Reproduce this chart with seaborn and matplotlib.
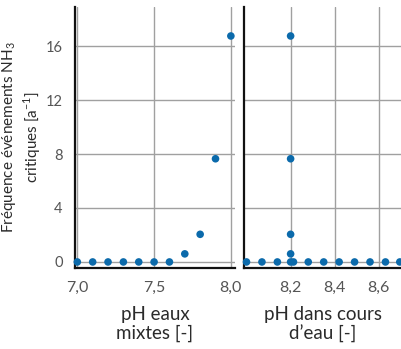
import matplotlib
matplotlib.use("Agg")
import matplotlib.pyplot as plt
import seaborn as sns
import pandas as pd

ph_mix = [7.0, 7.1, 7.2, 7.3, 7.4, 7.5, 7.6, 7.7, 7.8, 7.9, 8.0]
freq_mix = [0, 0, 0, 0, 0, 0, 0, 0.6, 2.05, 7.65, 16.75]

ph_riv = [8.0, 8.07, 8.14, 8.2, 8.2, 8.2, 8.2, 8.2, 8.213, 8.28, 8.35, 8.42, 8.49, 8.56, 8.63, 8.695]
freq_riv = [0, 0, 0, 0, 0.6, 2.05, 7.65, 16.75, 0, 0, 0, 0, 0, 0, 0, 0]

sns.set_theme(style="white")
plt.rcParams['font.family'] = ['Lato', 'DejaVu Sans']
plt.rcParams['mathtext.fontset'] = 'custom'
plt.rcParams['mathtext.rm'] = 'Lato'

blue = "#0b6aab"
grid_c = "#a0a0a0"
txt = "#2b2b2b"

fig = plt.figure(figsize=(4.02, 3.49), dpi=100)
ax1 = fig.add_axes([0.1866, 0.232, 0.398, 0.748])
ax2 = fig.add_axes([0.6077, 0.232, 0.3923, 0.748])

df1 = pd.DataFrame({"x": ph_mix, "y": freq_mix})
df2 = pd.DataFrame({"x": ph_riv, "y": freq_riv})

for ax, df in ((ax1, df1), (ax2, df2)):
    ax.grid(True, color=grid_c, linewidth=1.0)
    ax.set_axisbelow(True)
    sns.scatterplot(data=df, x="x", y="y", ax=ax, color=blue, s=30,
                    edgecolor="none", zorder=3, clip_on=False)
    ax.set_ylim(-0.45, 18.9)
    ax.set_yticks([0, 4, 8, 12, 16])
    for s in ("top", "right"):
        ax.spines[s].set_visible(False)
    for s in ("left", "bottom"):
        ax.spines[s].set_color("#111111")
        ax.spines[s].set_linewidth(1.6)
    ax.tick_params(length=0, labelsize=11.5, labelcolor="#555555", pad=9)
    ax.set_xlabel("")
    ax.set_ylabel("")

ax1.tick_params(axis="y", pad=9, labelsize=10.5)
ax1.set_xlim(6.985, 8.027)
ax1.set_xticks([7.0, 7.5, 8.0])
ax1.set_xticklabels(["7,0", "7,5", "8,0"])
ax1.set_yticklabels(["0", "4", "8", "12", "16"])
ax1.set_xlabel("pH eaux\nmixtes [-]", fontsize=13.5, color=txt, labelpad=8, linespacing=1.15)
ax1.set_ylabel("Fréquence événements NH$_\\mathregular{3}$\ncritiques [a$^\\mathregular{-1}$]", fontsize=11,
               color=txt, linespacing=1.2, va="center")
ax1.yaxis.set_label_coords(-0.335, 0.5)

ax2.set_xlim(7.99, 8.705)
ax2.set_xticks([8.2, 8.4, 8.6])
ax2.set_xticklabels(["8,2", "8,4", "8,6"])
ax2.tick_params(labelleft=False)
ax2.set_xlabel("pH dans cours\nd\u2019eau [-]", fontsize=13.5, color=txt, labelpad=8, linespacing=1.15)

fig.savefig("out.png", dpi=100)
